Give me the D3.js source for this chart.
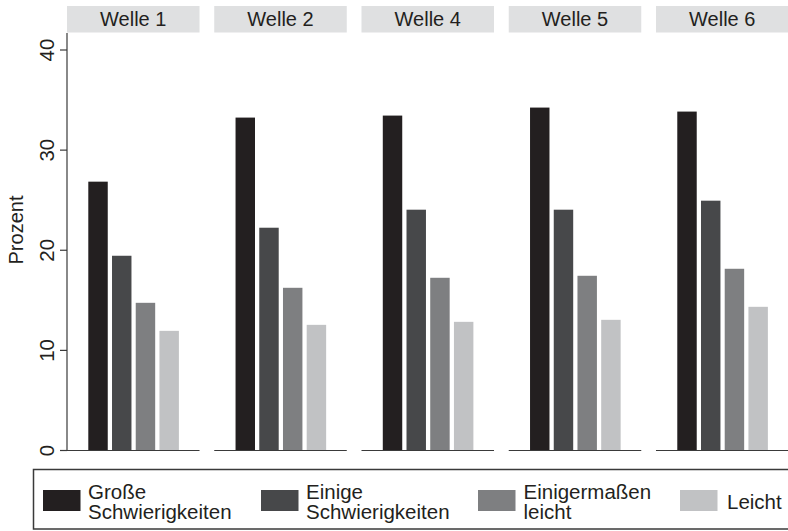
<!DOCTYPE html>
<html>
<head>
<meta charset="utf-8">
<script src="https://cdn.jsdelivr.net/npm/d3@7"></script>
<style>
  html, body { margin: 0; padding: 0; background: #fff; }
  svg { display: block; font-family: "Liberation Sans", Arial, sans-serif; }
</style>
</head>
<body>
<svg id="chart" width="788" height="531"></svg>
<script>
const waves = ["Welle 1", "Welle 2", "Welle 4", "Welle 5", "Welle 6"];
const categories = ["Große Schwierigkeiten", "Einige Schwierigkeiten", "Einigermaßen leicht", "Leicht"];
const legendLines = [["Große", "Schwierigkeiten"], ["Einige", "Schwierigkeiten"], ["Einigermaßen", "leicht"], ["Leicht"]];
const grosse = [26.8, 33.2, 33.4, 34.2, 33.8];
const einige = [19.4, 22.2, 24.0, 24.0, 24.9];
const einigermassen = [14.7, 16.2, 17.2, 17.4, 18.1];
const leicht = [11.9, 12.5, 12.8, 13.0, 14.3];
const yTicks = [0, 10, 20, 30, 40];
const colors = ["#231f20", "#47484a", "#7e7f81", "#c1c2c4"];

const series = [grosse, einige, einigermassen, leicht];
const svg = d3.select("#chart");
const textColor = "#231f20";

const y = d3.scaleLinear().domain([0, 40]).range([450, 49.5]);
const xPanel = d3.scaleBand().domain(waves).range([67, 788.5]).paddingInner(0.1).paddingOuter(0);
const pw = xPanel.bandwidth();
const xBar = d3.scaleBand().domain(categories).range([21.3, 21.3 + 90.6]).paddingInner(0.18).paddingOuter(0);

// Y axis
const yAxis = d3.axisLeft(y).tickValues(yTicks).tickSize(7).tickPadding(6).tickFormat(d3.format("d"));
const gy = svg.append("g").attr("transform", "translate(67,0)").call(yAxis);
gy.select(".domain").remove();
gy.append("line").attr("x1", 0).attr("x2", 0).attr("y1", 33).attr("y2", 450)
  .attr("stroke", "#3a3a3a").attr("stroke-width", 1.2);
gy.selectAll(".tick line").attr("stroke", "#3a3a3a").attr("stroke-width", 1.2);
gy.selectAll(".tick text")
  .attr("fill", textColor)
  .style("font-size", "20.5px")
  .attr("x", 0).attr("y", 0).attr("dy", 0)
  .attr("transform", "translate(-13.5,0) rotate(-90)")
  .attr("text-anchor", "middle");

svg.append("text")
  .attr("transform", "translate(22.5,230) rotate(-90)")
  .attr("text-anchor", "middle")
  .attr("fill", textColor)
  .style("font-size", "20px")
  .text("Prozent");

// Panels
waves.forEach((w, wi) => {
  const px = xPanel(w);
  const g = svg.append("g").attr("transform", `translate(${px},0)`);
  g.append("rect").attr("x", 0).attr("y", 6).attr("width", pw).attr("height", 26.5).attr("fill", "#dfe0e1");
  g.append("text").attr("x", pw / 2).attr("y", 25.5).attr("text-anchor", "middle")
    .attr("fill", textColor).style("font-size", "20px").text(w);
  g.selectAll("rect.bar").data(categories).enter().append("rect")
    .attr("class", "bar")
    .attr("x", c => xBar(c))
    .attr("width", xBar.bandwidth())
    .attr("y", (c, ci) => y(series[ci][wi]))
    .attr("height", (c, ci) => y(0) - y(series[ci][wi]))
    .attr("fill", (c, ci) => colors[ci]);
  g.append("line").attr("x1", 0).attr("x2", pw).attr("y1", 450.5).attr("y2", 450.5)
    .attr("stroke", "#3a3a3a").attr("stroke-width", 1.2);
});

// Legend
svg.append("rect").attr("x", 33.5).attr("y", 469.5).attr("width", 760).attr("height", 59.5)
  .attr("fill", "none").attr("stroke", "#3a3a3a").attr("stroke-width", 1.5);
const swX = [43, 261, 478, 680];
const txX = [88, 306, 523.5, 727];
categories.forEach((c, i) => {
  svg.append("rect").attr("x", swX[i]).attr("y", 490).attr("width", 37.5).attr("height", 21)
    .attr("fill", colors[i]);
  const lines = legendLines[i];
  const t = svg.append("text").attr("fill", textColor).style("font-size", "20.5px");
  if (lines.length === 2) {
    t.append("tspan").attr("x", txX[i]).attr("y", 498.5).text(lines[0]);
    t.append("tspan").attr("x", txX[i]).attr("y", 518.5).text(lines[1]);
  } else {
    t.append("tspan").attr("x", txX[i]).attr("y", 508.5).text(lines[0]);
  }
});
</script>
</body>
</html>
